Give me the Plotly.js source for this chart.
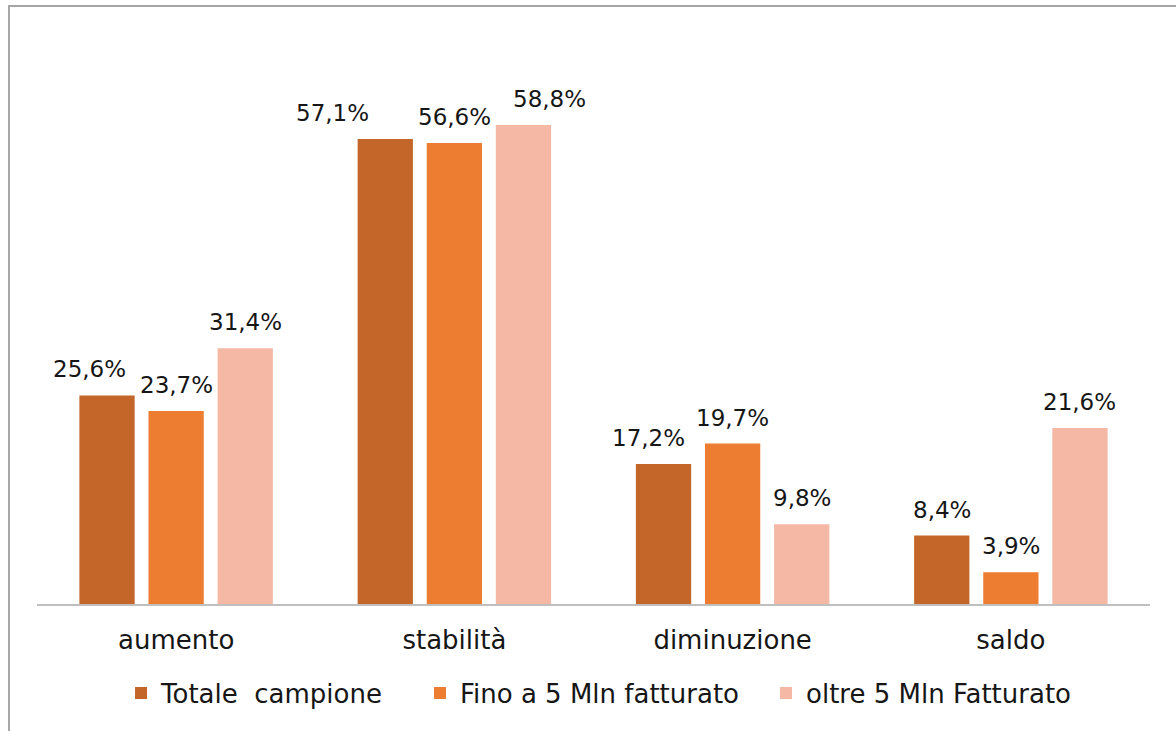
<!DOCTYPE html>
<html>
<head>
<meta charset="utf-8">
<script src="https://cdn.plot.ly/plotly-3.0.1.min.js"></script>
<style>
html,body{margin:0;padding:0;background:#fff;overflow:hidden;}
#frame{position:absolute;left:8px;top:5px;width:1200px;height:800px;border-left:2px solid #a6a6a6;border-top:2px solid #a6a6a6;}
#chart{position:absolute;left:0;top:0;width:1176px;height:731px;}
</style>
</head>
<body>
<div id="frame"></div>
<div id="chart"></div>
<script>
const categories = ["aumento", "stabilità", "diminuzione", "saldo"];
const seriesNames = ["Totale  campione", "Fino a 5 Mln fatturato", "oltre 5 Mln Fatturato"];
const totale = [25.6, 57.1, 17.2, 8.4];
const fino5 = [23.7, 56.6, 19.7, 3.9];
const oltre5 = [31.4, 58.8, 9.8, 21.6];
const colors = ["#C4662A", "#ED7D31", "#F4B8A5"];
// horizontal nudges (px) of data labels, as placed in the original
const labelNudge = [[-18, -53, -15, 0], [0, 0, 0, 0], [0, 26, 0, 0]];
// left edge (paper fraction) of each legend entry
const legendX = [0.0755, 0.3441, 0.6550];

const fontFam = "DejaVu Sans, Noto Sans, sans-serif";
const textColor = '#161616';
function fmt(v){ return v.toFixed(1).replace('.', ',') + '%'; }

const bargap = 0.255, bargroupgap = 0.2;
const seriesVals = [totale, fino5, oltre5];
const legendIds = ['legend', 'legend2', 'legend3'];

const data = seriesVals.map((vals, i) => ({
  type: 'bar',
  name: seriesNames[i],
  x: categories,
  y: vals,
  marker: {color: colors[i]},
  legend: legendIds[i],
  hoverinfo: 'none'
}));

const slot = (1 - bargap) / seriesVals.length;
const annotations = [];
seriesVals.forEach((vals, s) => {
  vals.forEach((v, c) => {
    annotations.push({
      xref: 'x', yref: 'y',
      x: c + (s - (seriesVals.length - 1) / 2) * slot,
      y: v,
      text: fmt(v),
      showarrow: false,
      xanchor: 'center', yanchor: 'middle',
      xshift: labelNudge[s][c], yshift: 26,
      font: {family: fontFam, size: 23, color: textColor}
    });
  });
});

const layout = {
  width: 1176, height: 731,
  margin: {l: 37, r: 26, t: 20, b: 127},
  paper_bgcolor: 'rgba(0,0,0,0)',
  plot_bgcolor: 'rgba(0,0,0,0)',
  barmode: 'group',
  bargap: bargap,
  bargroupgap: bargroupgap,
  font: {family: fontFam, size: 23, color: textColor},
  xaxis: {
    showline: true, linecolor: '#bfbfbf', linewidth: 2,
    ticks: '', showgrid: false, zeroline: false,
    ticklabelstandoff: 12,
    tickfont: {family: fontFam, size: 26, color: textColor}
  },
  yaxis: {
    range: [0, 71.7], visible: false, showgrid: false, zeroline: false
  },
  annotations: annotations,
  showlegend: true
};
legendIds.forEach((id, i) => {
  layout[id] = {
    orientation: 'h', x: legendX[i], xanchor: 'left', y: -0.1524, yanchor: 'middle',
    font: {family: fontFam, size: 26, color: textColor},
    bgcolor: 'rgba(0,0,0,0)'
  };
});

Plotly.newPlot('chart', data, layout, {displayModeBar: false, staticPlot: true});
</script>
</body>
</html>
